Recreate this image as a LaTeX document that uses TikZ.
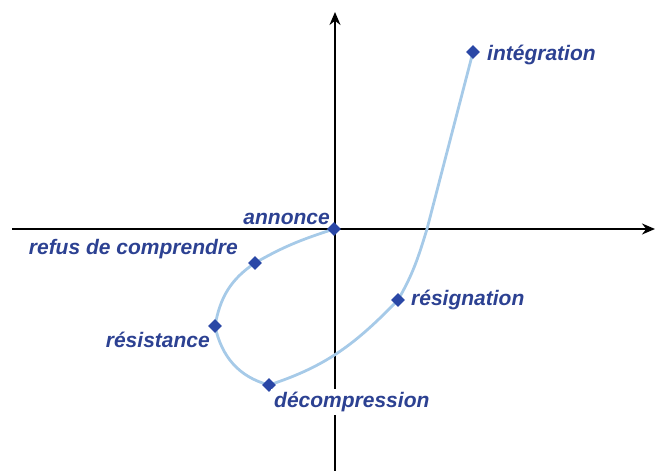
\documentclass[tikz,border=0pt]{standalone}
\usepackage{fontspec}
\setmainfont{Liberation Sans}
\usetikzlibrary{shapes.geometric,arrows.meta}
\definecolor{lbl}{HTML}{2C4192}
\definecolor{dia}{HTML}{2A47A6}
\definecolor{crv}{HTML}{A6CAE8}
\tikzset{
  axis/.style={line width=1.8pt,-{Stealth[length=13pt,width=11pt]}},
  pt/.style={diamond,fill=dia,inner sep=0pt,minimum width=14pt,minimum height=14pt},
  lab/.style={text=lbl,font=\fontsize{21}{24}\selectfont\bfseries\itshape,inner sep=1pt},
  crvline/.style={crv,line width=2.8pt}
}
\begin{document}
\begin{tikzpicture}[x=1pt,y=1pt]
\useasboundingbox (0,0) rectangle (656,471);
\coordinate (ybot) at (335,0);
\coordinate (ytop) at (335,459);
\coordinate (xl) at (12,242);
\coordinate (xr) at (655,242);
\draw[axis] (ybot) -- (ytop);
\draw[axis] (xl) -- (xr);
\coordinate (a) at (334,242);
\coordinate (r) at (255,208);
\coordinate (s) at (215,145);
\coordinate (d) at (269,86);
\coordinate (g) at (398,171);
\coordinate (c) at (427,242);
\coordinate (i) at (473,419);
\draw[crvline] (a) to[out=198,in=30] (r) to[out=214,in=80] (s)
  to[out=282,in=165] (d) to[out=18,in=226] (g) to[out=60,in=253] (c) -- (i);
\node[pt] (na) at (a) {};
\node[pt] (nr) at (r) {};
\node[pt] (ns) at (s) {};
\node[pt] (nd) at (d) {};
\node[pt] (ng) at (g) {};
\node[pt] (ni) at (i) {};
\node[lab,anchor=east] (la) at (331,252.5) {annonce};
\node[lab,anchor=east] (lr) at (239,221.5) {refus de comprendre};
\node[lab,anchor=east] (ls) at (211,131) {résistance};
\node[lab,anchor=west,fill=white,inner sep=3pt] (ld) at (271,69) {décompression};
\node[lab,anchor=west] (lg) at (410,171) {résignation};
\node[lab,anchor=west] (li) at (486,416.5) {intégration};
\end{tikzpicture}
\end{document}
